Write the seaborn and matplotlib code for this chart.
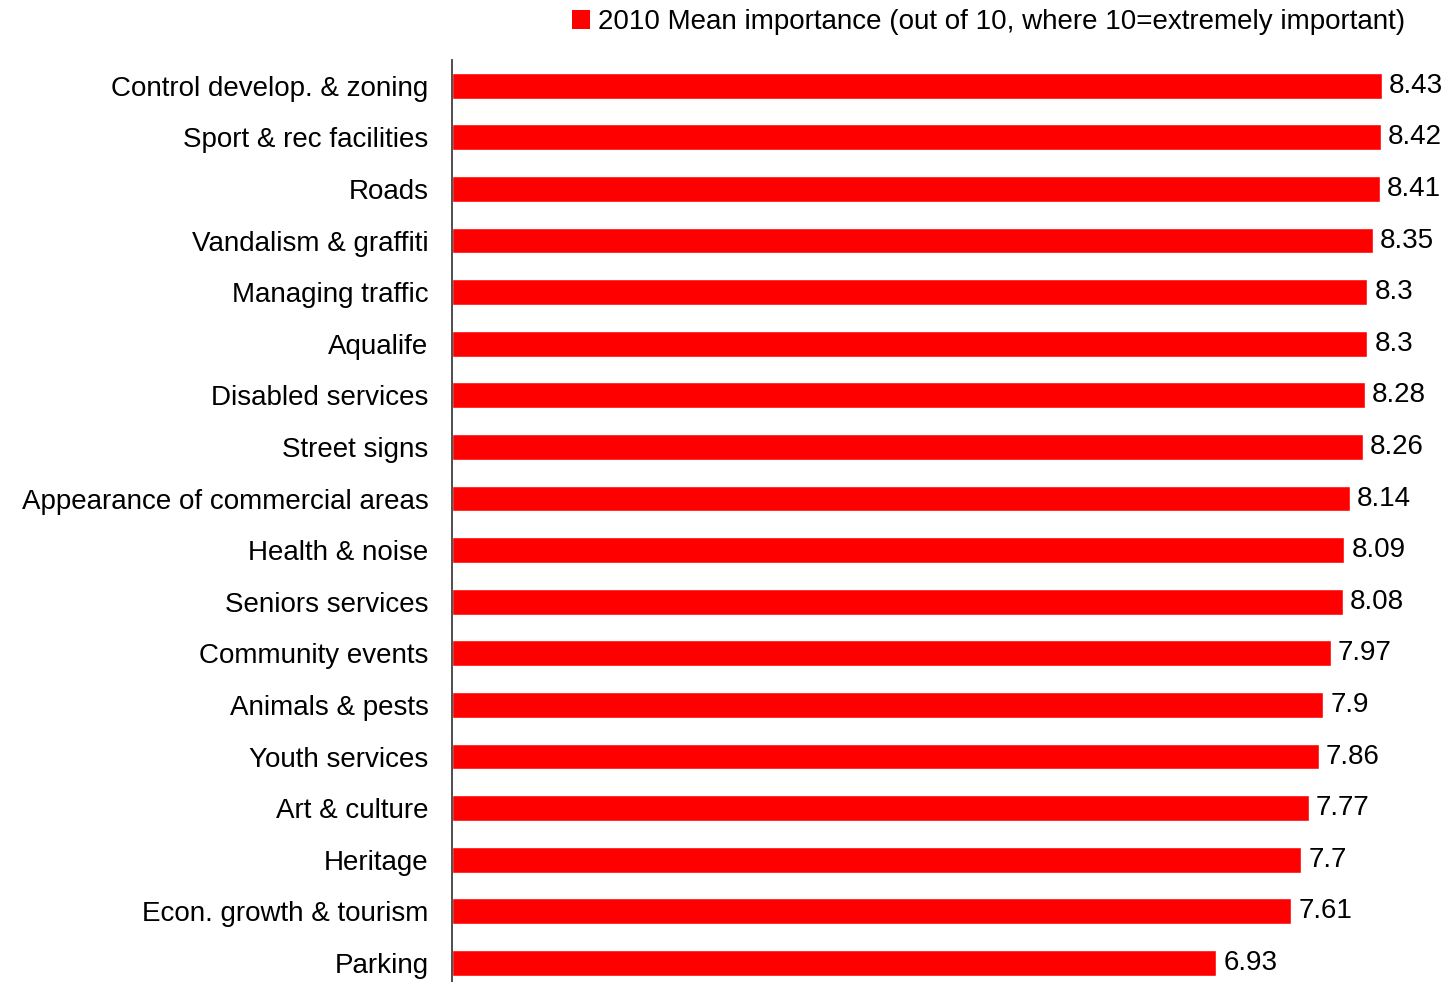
import matplotlib
matplotlib.use("Agg")
import matplotlib.pyplot as plt
from matplotlib.patches import Patch
import seaborn as sns
import pandas as pd

categories = [
    "Control develop. & zoning",
    "Sport & rec facilities",
    "Roads",
    "Vandalism & graffiti",
    "Managing traffic",
    "Aqualife",
    "Disabled services",
    "Street signs",
    "Appearance of commercial areas",
    "Health & noise",
    "Seniors services",
    "Community events",
    "Animals & pests",
    "Youth services",
    "Art & culture",
    "Heritage",
    "Econ. growth & tourism",
    "Parking",
]
importance_2010 = [8.43, 8.42, 8.41, 8.35, 8.3, 8.3, 8.28, 8.26, 8.14,
                   8.09, 8.08, 7.97, 7.9, 7.86, 7.77, 7.7, 7.61, 6.93]
series_label = "2010 Mean importance (out of 10, where 10=extremely important)"
bar_color = "#ff0000"

sns.set_style("white")
plt.rcParams["font.family"] = ["Liberation Sans", "DejaVu Sans"]
plt.rcParams["text.color"] = "black"

df = pd.DataFrame({"category": categories, "importance": importance_2010})

fig = plt.figure(figsize=(14.48, 9.82), dpi=100)
ax = fig.add_axes([452 / 1448, 0.0, 1 - 452 / 1448, 1 - 60 / 982])

sns.barplot(data=df, x="importance", y="category", color=bar_color,
            saturation=1, width=0.5, orient="h", ax=ax)

ax.set_xlim(0, 9.03)
ax.set_ylim(17.37, -0.5)

ax.bar_label(ax.containers[0], labels=[f"{v:g}" for v in importance_2010],
             padding=5, fontsize=20, color="black")

for side in ["top", "right", "bottom"]:
    ax.spines[side].set_visible(False)
ax.spines["left"].set_color("#404040")
ax.spines["left"].set_linewidth(1.3)

ax.set_xticks([])
ax.set_xlabel("")
ax.set_ylabel("")
ax.tick_params(axis="y", length=0, pad=17, labelsize=20, labelcolor="black")

handle = Patch(facecolor=bar_color, edgecolor="none", linewidth=0)
leg = ax.legend([handle], [series_label], loc="center right",
                bbox_to_anchor=(1405 / 1448, 1 - 22 / 982),
                bbox_transform=fig.transFigure, frameon=False, fontsize=20,
                handlelength=0.66, handleheight=0.7, handletextpad=0.27,
                borderpad=0, borderaxespad=0)
for t in leg.get_texts():
    t.set_color("black")

fig.savefig("out.png", dpi=100)
